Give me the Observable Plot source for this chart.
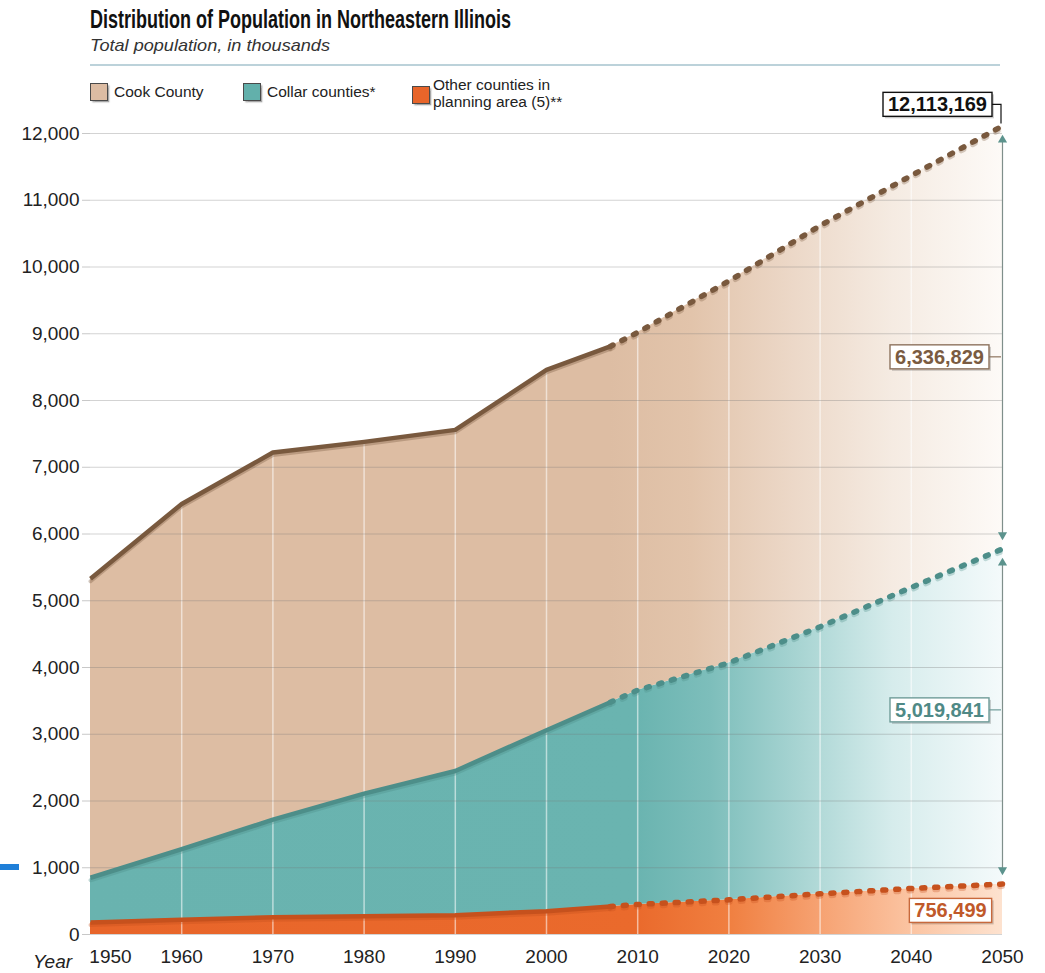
<!DOCTYPE html>
<html>
<head>
<meta charset="utf-8">
<script src="https://cdn.jsdelivr.net/npm/d3@7"></script>
<script src="https://cdn.jsdelivr.net/npm/@observablehq/plot@0.6"></script>
<style>
  body { margin: 0; background: #fff; font-family: "Liberation Sans", Arial, sans-serif; }
  #page { position: relative; width: 1045px; height: 973px; overflow: hidden; background: #fff; }
  #chart { position: absolute; left: 0; top: 72px; }
  .abs { position: absolute; white-space: nowrap; z-index: 2; }
  .sw { position: absolute; width: 16px; height: 16px; border: 1px solid #4a4a4a; box-shadow: 1.5px 1.5px 1.5px rgba(0,0,0,0.35); z-index: 2; }
  .lt { position: absolute; font-size: 15.5px; color: #222; line-height: 17px; z-index: 2; white-space: nowrap; }
</style>
</head>
<body>
<div id="page">
  <svg id="head" width="1045" height="72" style="position:absolute;left:0;top:0">
    <text x="90" y="28" font-family="'Liberation Sans Narrow','Liberation Sans',Arial" font-weight="bold" font-size="25" fill="#111" textLength="421" lengthAdjust="spacingAndGlyphs">Distribution of Population in Northeastern Illinois</text>
    <text x="90" y="51" font-family="'Liberation Sans',Arial" font-style="italic" font-size="17" fill="#333" textLength="240" lengthAdjust="spacingAndGlyphs">Total population, in thousands</text>
    <line x1="90" x2="1000" y1="65" y2="65" stroke="#bcd2da" stroke-width="2"></line>
  </svg>
  <div id="chart"></div>
  <div id="legend"></div>
  <div class="abs" style="left:33px;top:951px;font-size:19px;font-style:italic;color:#222;">Year</div>
  <div class="abs" style="left:0;top:864px;width:19px;height:6px;background:#1f7fd8;"></div>
</div>
<script>
// ---------------- data ----------------
const years = [1950, 1960, 1970, 1980, 1990, 2000, 2007, 2010, 2020, 2030, 2040, 2050];
const lastActualYear = 2007;
// thousands of people, per series (not cumulative)
const otherCounties  = [180, 220, 260, 275, 290, 350, 420, 450, 520, 610, 690, 756.499];
const collarCounties = [670, 1060, 1460, 1835, 2160, 2710, 3060, 3210, 3550, 4000, 4510, 5019.841];
const cookCounty     = [4480, 5170, 5500, 5270, 5110, 5400, 5330, 5360, 5720, 6010, 6170, 6336.829];
const yTicks = [0, 1000, 2000, 3000, 4000, 5000, 6000, 7000, 8000, 9000, 10000, 11000, 12000];
const xTicks = [1950, 1960, 1970, 1980, 1990, 2000, 2010, 2020, 2030, 2040, 2050];
const legendNames = ["Cook County", "Collar counties*", "Other counties in<br>planning area (5)**"];

// ---------------- styles ----------------
const series = [
  {key: "other",  values: otherCounties,  line: "#c6511d", grad: "g-other",
   stops: [[0,"#e8652a"],[0.6,"#ea6a2c"],[0.7,"#f07f40"],[0.8,"#f6a272"],[0.9,"#fbc4a2"],[1,"#fde2cf"]], swatch: "#e8652a"},
  {key: "collar", values: collarCounties, line: "#4d8e89", grad: "g-collar",
   stops: [[0,"#69b3af"],[0.6,"#6ab4b0"],[0.68,"#7dbebb"],[0.78,"#a9d5d3"],[0.88,"#d6ecec"],[1,"#f4fafb"]], swatch: "#62b0ab"},
  {key: "cook",   values: cookCounty,     line: "#79593e", grad: "g-cook",
   stops: [[0,"#ddbda3"],[0.57,"#ddbda3"],[0.66,"#e2c4ab"],[0.76,"#ebd6c5"],[0.88,"#f5ebe2"],[1,"#fdfaf7"]], swatch: "#dcbca3"}
];

// cumulative stacking (bottom to top)
const rows = [];
years.forEach((yr, i) => {
  let acc = 0;
  series.forEach(s => {
    const lo = acc; acc += s.values[i];
    rows.push({year: yr, key: s.key, lo, hi: acc});
  });
});
const rowsOf = k => rows.filter(r => r.key === k);
const at2050 = k => rows.find(r => r.key === k && r.year === 2050);
const oTop = at2050("other").hi, cTop = at2050("collar").hi, total = at2050("cook").hi;
const fmt = v => d3.format(",")(Math.round(v * 1000));

const segments = [{top: total, bottom: cTop}, {top: cTop, bottom: oTop}];
const annotations = [
  {text: fmt(total), y: total, dx: -65, dy: -21, color: "#111", border: "#111", elbow: true},
  {text: fmt(cookCounty[cookCounty.length-1]), y: (total + cTop) / 2, dx: -63, dy: 20, color: "#7a5b41", border: "#8d735e", elbow: false, link: true},
  {text: fmt(collarCounties[collarCounties.length-1]), y: (cTop + oTop) / 2, dx: -63, dy: -6, color: "#4f8986", border: "#6f9c99", elbow: false, link: true},
  {text: fmt(otherCounties[otherCounties.length-1]), y: oTop, dx: -52, dy: 27, color: "#c0592a", border: "#c8693c", elbow: false, link: false}
];

const font = "'Liberation Sans', Arial, sans-serif";
const marks = [];
// areas
series.forEach(s => {
  marks.push(Plot.areaY(rowsOf(s.key), {x: "year", y1: "lo", y2: "hi", fill: `url(#${s.grad})`}));
});
// vertical white grid over fill
marks.push(Plot.ruleX(rowsOf("cook").filter(r => xTicks.includes(r.year) && r.year > 1950 && r.year < 2050),
  {x: "year", y1: 0, y2: "hi", stroke: "white", strokeOpacity: 0.55, strokeWidth: 1.5}));
// horizontal grid
marks.push(Plot.gridY(yTicks, {stroke: "#777", strokeOpacity: 0.32, strokeWidth: 1}));
marks.push(Plot.axisY(yTicks, {tickFormat: d3.format(","), tickSize: 8, tickPadding: 3, stroke: "#c8c8c8", fill: "#222", fontSize: 19, label: null}));
// lines
series.forEach(s => {
  const r = rowsOf(s.key);
  const solid = r.filter(d => d.year <= lastActualYear);
  const dashed = r.filter(d => d.year >= lastActualYear);
  marks.push(Plot.line(solid, {x: "year", y: "hi", stroke: s.line, strokeOpacity: 0.35, strokeWidth: 4, dy: 2.5}));
  marks.push(Plot.line(dashed, {x: "year", y: "hi", stroke: s.line, strokeOpacity: 0.3, strokeWidth: 5, dy: 2.5, strokeDasharray: "3,10", strokeLinecap: "round"}));
  marks.push(Plot.line(solid, {x: "year", y: "hi", stroke: s.line, strokeWidth: 4.5, strokeLinecap: "butt"}));
  marks.push(Plot.line(dashed, {x: "year", y: "hi", stroke: s.line, strokeWidth: 5.5, strokeDasharray: "3,10", strokeLinecap: "round"}));
});
// arrows
marks.push(Plot.arrow(segments, {x1: () => 2050, x2: () => 2050, y1: "top", y2: "bottom", insetStart: 12, insetEnd: 12, headLength: 0, stroke: "#7f8f8b", strokeWidth: 1.2}));
marks.push(Plot.dot(segments, {x: () => 2050, y: "top", dy: 14, symbol: "triangle", r: 3.4, fill: "#5c938d", stroke: "none"}));
marks.push(Plot.dot(segments, {x: () => 2050, y: "bottom", dy: -14, symbol: "triangle", rotate: 180, r: 3.4, fill: "#5c938d", stroke: "none"}));
// annotation labels
annotations.forEach((a, i) => {
  marks.push(Plot.text([a], {x: () => 2050, y: "y", text: "text", dx: a.dx, dy: a.dy, fill: a.color, fontWeight: "bold", fontSize: 20, ariaDescription: `ann-${i}`}));
});
// x tick labels
marks.push(Plot.text(xTicks.filter(d => d !== 1950), {x: d => d, frameAnchor: "bottom", dy: 28, text: d => String(d), fontSize: 19, fill: "#222"}));
marks.push(Plot.text([1950], {x: d => d, frameAnchor: "bottom", dy: 28, dx: 20, text: d => String(d), fontSize: 19, fill: "#222"}));

const plot = Plot.plot({
  width: 1045,
  height: 901,
  marginLeft: 90,
  marginRight: 43,
  marginTop: 61,
  marginBottom: 39,
  x: {domain: [1950, 2050], axis: null},
  y: {domain: [0, 12000], axis: null},
  style: {fontFamily: font, background: "transparent", overflow: "visible"},
  marks
});
document.getElementById("chart").appendChild(plot);

// gradients
const ns = "http://www.w3.org/2000/svg";
const svg = plot;
const defs = document.createElementNS(ns, "defs");
series.forEach(s => {
  const g = document.createElementNS(ns, "linearGradient");
  g.setAttribute("id", s.grad);
  g.setAttribute("x1", "0"); g.setAttribute("x2", "1"); g.setAttribute("y1", "0"); g.setAttribute("y2", "0");
  s.stops.forEach(([o, c]) => {
    const st = document.createElementNS(ns, "stop");
    st.setAttribute("offset", o);
    st.setAttribute("stop-color", c);
    g.appendChild(st);
  });
  defs.appendChild(g);
});
svg.insertBefore(defs, svg.firstChild);

// label boxes + connectors
const xs = plot.scale("x"), ys = plot.scale("y");
const x2050 = xs.apply(2050);
const sRect = svg.getBoundingClientRect();
const textGroups = Array.from(svg.querySelectorAll("g")).filter(g => g.getAttribute("aria-description") && g.getAttribute("aria-description").startsWith("ann-"));
annotations.forEach((a, i) => {
  const g = textGroups.find(gg => gg.getAttribute("aria-description") === `ann-${i}`);
  if (!g) return;
  const t = g.querySelector("text");
  const r = t.getBoundingClientRect();
  const px = 5, py = 2;
  const bx = r.left - sRect.left - px, by = r.top - sRect.top - py + 1;
  const bw = r.width + 2 * px, bh = r.height + 2 * py - 2;
  const grp = document.createElementNS(ns, "g");
  const sh = document.createElementNS(ns, "rect");
  sh.setAttribute("x", bx + 2); sh.setAttribute("y", by + 2); sh.setAttribute("width", bw); sh.setAttribute("height", bh);
  sh.setAttribute("fill", "rgba(0,0,0,0.18)");
  grp.appendChild(sh);
  const rc = document.createElementNS(ns, "rect");
  rc.setAttribute("x", bx); rc.setAttribute("y", by); rc.setAttribute("width", bw); rc.setAttribute("height", bh);
  rc.setAttribute("fill", "white"); rc.setAttribute("stroke", a.border); rc.setAttribute("stroke-width", "1.4");
  grp.appendChild(rc);
  const cy = by + bh / 2;
  if (a.elbow || a.link) {
    const p = document.createElementNS(ns, "path");
    let d = `M${bx + bw},${cy}H${x2050 - 1}`;
    if (a.elbow) d += `V${ys.apply(a.y) - 2}`;
    p.setAttribute("d", d);
    p.setAttribute("fill", "none");
    p.setAttribute("stroke", a.border);
    p.setAttribute("stroke-width", "1.2");
    grp.appendChild(p);
  }
  g.parentNode.insertBefore(grp, g);
});

// legend
const leg = document.getElementById("legend");
const legLeft = [90, 243, 412];
const legendColors = [series[2].swatch, series[1].swatch, series[0].swatch];
legendNames.forEach((name, i) => {
  const sw = document.createElement("div");
  sw.className = "sw";
  sw.style.left = legLeft[i] + "px";
  sw.style.top = (i === 2 ? 86 : 83) + "px";
  sw.style.background = legendColors[i];
  leg.appendChild(sw);
  const lt = document.createElement("div");
  lt.className = "lt";
  lt.style.left = (legLeft[i] + 24 - (i === 2 ? 3 : 0)) + "px";
  lt.style.top = (i === 2 ? 76 : 83) + "px";
  lt.innerHTML = name;
  leg.appendChild(lt);
});
</script>
</body>
</html>
